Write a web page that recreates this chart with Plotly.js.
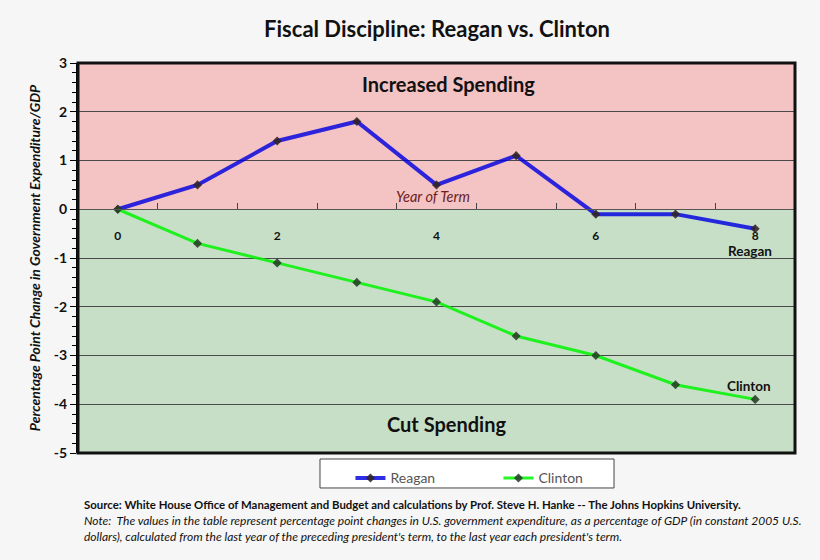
<!DOCTYPE html>
<html>
<head>
<meta charset="utf-8">
<script src="https://cdn.plot.ly/plotly-3.0.1.min.js"></script>
<style>html,body{margin:0;padding:0;background:#f6f6f6;}#chart{width:820px;height:560px;}</style>
</head>
<body>
<div id="chart"></div>
<script>
// Data
const years = [0, 1, 2, 3, 4, 5, 6, 7, 8];
const reagan = [0, 0.5, 1.4, 1.8, 0.5, 1.1, -0.1, -0.1, -0.4];
const clinton = [0, -0.7, -1.1, -1.5, -1.9, -2.6, -3.0, -3.6, -3.9];
const xTickVals = [0, 2, 4, 6, 8];
const xTickText = ['0', '2', '4', '6', '8'];
const xMinorTicks = [0.5, 1.5, 2.5, 3.5, 4.5, 5.5, 6.5, 7.5];
const yTickVals = [-5, -4, -3, -2, -1, 0, 1, 2, 3];
const yTickText = ['-5', '-4', '-3', '-2', '-1', '0', '1', '2', '3'];
const seriesNames = ['Reagan', 'Clinton'];

const FONT = 'Lato, "Open Sans", "DejaVu Sans", sans-serif';

const traces = [
  {
    x: years, y: reagan, name: seriesNames[0], type: 'scatter', mode: 'lines+markers',
    line: {color: 'rgba(0,0,225,0.82)', width: 4},
    marker: {symbol: 'diamond', size: 7, color: 'rgba(50,35,35,0.88)'}
  },
  {
    x: years, y: clinton, name: seriesNames[1], type: 'scatter', mode: 'lines+markers',
    line: {color: 'rgba(0,245,0,0.85)', width: 3},
    marker: {symbol: 'diamond', size: 7, color: 'rgba(40,60,40,0.88)'}
  }
];

const layout = {
  width: 820, height: 560,
  paper_bgcolor: '#f6f6f6',
  plot_bgcolor: 'rgba(0,0,0,0)',
  margin: {l: 78, r: 25, t: 63, b: 107},
  showlegend: true,
  font: {family: FONT, color: '#000'},
  title: {
    text: '<b>Fiscal Discipline: Reagan vs. Clinton</b>',
    font: {family: FONT, size: 22, color: '#111'},
    x: 0.533, xanchor: 'center', y: 0.948, yanchor: 'middle'
  },
  xaxis: {
    range: [-0.5, 8.5],
    anchor: 'free', position: 0.625,
    showgrid: false, zeroline: false,
    showline: true, linecolor: '#555', linewidth: 1,
    tickvals: xTickVals, ticktext: xTickText,
    ticks: '', ticklabelstandoff: 15,
    tickfont: {family: FONT, size: 12, color: '#111', weight: 'bold'},
    minor: {tickvals: xMinorTicks, ticks: 'inside', ticklen: 6, tickcolor: '#444', tickwidth: 1},
    fixedrange: true
  },
  yaxis: {
    range: [-5, 3],
    tickvals: yTickVals, ticktext: yTickText,
    showgrid: true, gridcolor: '#4a4a4a', gridwidth: 1,
    zeroline: false,
    showline: true, linecolor: '#000', linewidth: 2,
    ticks: 'outside', ticklen: 6, tickcolor: '#000', tickwidth: 1,
    minor: {dtick: 0.2, ticks: 'outside', ticklen: 4, tickcolor: '#000', showgrid: false},
    tickfont: {family: FONT, size: 14, color: '#111', weight: 'bold'},
    title: {
      text: '<b><i>Percentage Point Change in Government Expenditure/GDP</i></b>',
      font: {family: FONT, size: 14, color: '#111'}, standoff: 10
    },
    fixedrange: true
  },
  legend: {
    orientation: 'h',
    x: 0.38, xanchor: 'left', y: -0.024, yanchor: 'top',
    bgcolor: 'rgba(0,0,0,0)', borderwidth: 0,
    font: {family: FONT, size: 14, color: '#555'},
    entrywidth: 103, itemwidth: 30,
    tracegroupgap: 0
  },
  shapes: [
    {type: 'rect', xref: 'paper', yref: 'y', x0: 0, x1: 1, y0: 0, y1: 3,
     fillcolor: '#f4c3c3', line: {width: 0}, layer: 'below'},
    {type: 'rect', xref: 'paper', yref: 'y', x0: 0, x1: 1, y0: -5, y1: 0,
     fillcolor: '#c7dfc7', line: {width: 0}, layer: 'below'},
    {type: 'rect', xref: 'paper', yref: 'paper', x0: 0, x1: 1, y0: 0, y1: 1,
     fillcolor: 'rgba(0,0,0,0)', line: {width: 3, color: '#111'}, layer: 'above'},
    {type: 'rect', xref: 'paper', yref: 'paper', x0: 0.3375, x1: 0.7476, y0: -0.0897, y1: -0.0154,
     fillcolor: '#ffffff', line: {width: 1, color: '#444'}, layer: 'below'}
  ],
  annotations: [
    {text: '<b>Increased Spending</b>', xref: 'x', yref: 'y', x: 4.15, y: 2.56, showarrow: false,
     font: {family: FONT, size: 20, color: '#111'}},
    {text: '<b>Cut Spending</b>', xref: 'x', yref: 'y', x: 4.13, y: -4.4, showarrow: false,
     font: {family: FONT, size: 20, color: '#111'}},
    {text: '<i>Year of Term</i>', xref: 'x', yref: 'y', x: 3.95, y: 0.26, showarrow: false,
     font: {family: FONT, size: 14.5, color: '#6b1f1f'}},
    {text: '<b>Reagan</b>', xref: 'x', yref: 'y', x: 7.93, y: -0.86, showarrow: false,
     font: {family: FONT, size: 13.5, color: '#111'}},
    {text: '<b>Clinton</b>', xref: 'x', yref: 'y', x: 7.92, y: -3.63, showarrow: false,
     font: {family: FONT, size: 13.5, color: '#111'}},
    {text: '<b>Source: White House Office of Management and Budget and calculations by Prof. Steve H. Hanke -- The Johns Hopkins University.</b>',
     xref: 'paper', yref: 'paper', x: 0.006, y: -0.133, xanchor: 'left', yanchor: 'middle', showarrow: false,
     font: {family: FONT, size: 11.4, color: '#111'}},
    {text: '<i>Note:  The values in the table represent percentage point changes in U.S. government expenditure, as a percentage of GDP (in constant 2005 U.S.</i>',
     xref: 'paper', yref: 'paper', x: 0.006, y: -0.174, xanchor: 'left', yanchor: 'middle', showarrow: false,
     font: {family: FONT, size: 12, color: '#111'}},
    {text: '<i>dollars), calculated from the last year of the preceding president\'s term, to the last year each president\'s term.</i>',
     xref: 'paper', yref: 'paper', x: 0.006, y: -0.215, xanchor: 'left', yanchor: 'middle', showarrow: false,
     font: {family: FONT, size: 12, color: '#111'}}
  ]
};

Plotly.newPlot('chart', traces, layout, {displayModeBar: false, staticPlot: true});
</script>
</body>
</html>
